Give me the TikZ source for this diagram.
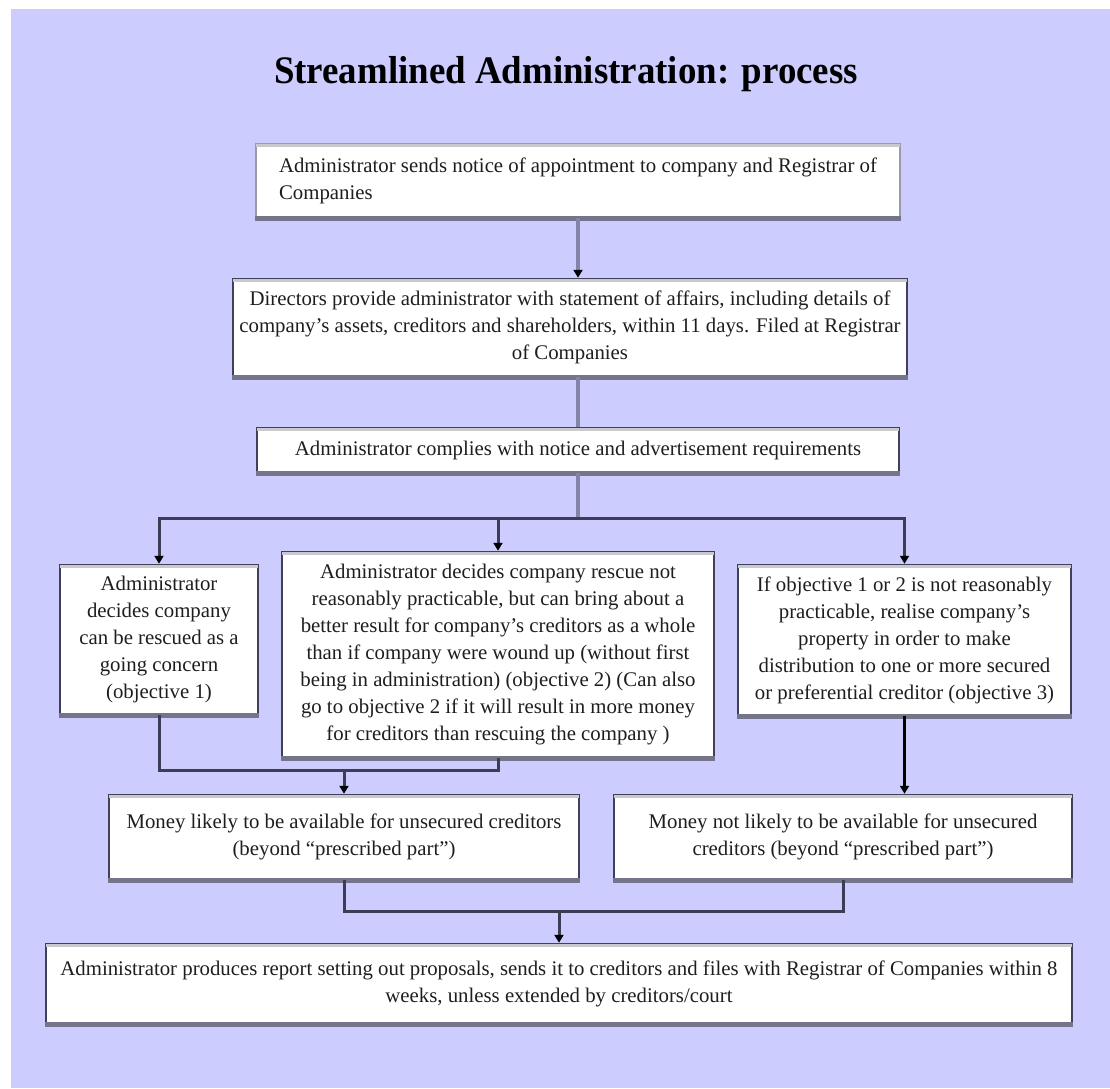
\documentclass[tikz,border=0pt]{standalone}
\usepackage{fontspec}
\usepackage{graphicx}
\setmainfont{Liberation Serif}
\usetikzlibrary{arrows.meta}
\definecolor{lav}{HTML}{CCCCFF}
\definecolor{boxedge}{HTML}{404058}
\definecolor{boxedgelight}{HTML}{9A9AAC}
\definecolor{shadecol}{HTML}{74748A}
\definecolor{bandcol}{HTML}{CACACE}
\definecolor{flowgray}{HTML}{8484A8}
\definecolor{flowdark}{HTML}{3C3C54}
\definecolor{txt}{HTML}{1E1E1E}
\begin{document}
\begin{tikzpicture}[x=1pt,y=-1pt,
  every node/.style={font=\fontsize{20.8}{27}\selectfont, text=txt},
  box/.style={draw=boxedge, line width=2.5pt, fill=white, inner sep=0pt, align=center},
  lightbox/.style={box, draw=boxedgelight},
  bottomedge/.style={draw=shadecol, line width=4.5pt},
  topband/.style={draw=bandcol, line width=3pt},
  flowthick/.style={draw=flowgray, line width=4pt},
  flowthin/.style={draw=flowdark, line width=3pt},
  tip/.style={-{Triangle[length=8pt,width=9pt,color=black]}}
]
\fill[white] (0,0) rectangle (1110,1088);
\fill[lav] (11,9) rectangle (1110,1088);

\node[anchor=base, inner sep=0pt, font=\fontsize{39}{42}\selectfont\bfseries, text=black] (title) at (566,83) {\scalebox{0.946}[1]{Streamlined Administration: process}};

\node[lightbox, minimum width=644pt, minimum height=73pt, align=left] (b1) at (578,180.5)
  {Administrator sends notice of appointment to company and Registrar of\\Companies};
\node[box, minimum width=674pt, minimum height=97pt] (b2) at (570,327.5)
  {Directors provide administrator with statement of affairs, including details of\\company's assets, creditors and shareholders, within 11 days. Filed at Registrar\\of Companies};
\node[box, minimum width=642pt, minimum height=44pt] (b3) at (578,450)
  {Administrator complies with notice and advertisement requirements};

\node[box, minimum width=198pt, minimum height=149pt] (o1) at (159,639.5)
  {Administrator\\decides company\\can be rescued as a\\going concern\\(objective 1)};
\node[box, minimum width=432pt, minimum height=205pt] (o2) at (498,654.5)
  {Administrator decides company rescue not\\reasonably practicable, but can bring about a\\better result for company's creditors as a whole\\than if company were wound up (without first\\being in administration) (objective 2) (Can also\\go to objective 2 if it will result in more money\\for creditors than rescuing the company )};
\node[box, minimum width=333pt, minimum height=150pt] (o3) at (904.5,640)
  {If objective 1 or 2 is not reasonably\\practicable, realise company's\\property in order to make\\distribution to one or more secured\\or preferential creditor (objective 3)};

\node[box, minimum width=470pt, minimum height=84pt] (m1) at (344,837)
  {Money likely to be available for unsecured creditors\\(beyond “prescribed part”)};
\node[box, minimum width=458pt, minimum height=84pt] (m2) at (843,837)
  {Money not likely to be available for unsecured\\creditors (beyond “prescribed part”)};

\node[box, minimum width=1026pt, minimum height=79pt] (f) at (559,983.5)
  {Administrator produces report setting out proposals, sends it to creditors and files with Registrar of Companies within 8\\weeks, unless extended by creditors/court};

\foreach \n in {b1,b2,b3,o1,o2,o3,m1,m2,f}{
  \draw[topband] ([xshift=1.5pt,yshift=-3pt]\n.north west) -- ([xshift=-1.5pt,yshift=-3pt]\n.north east);
  \draw[bottomedge] (\n.south west) -- (\n.south east);
}

\coordinate (j1) at (578,518);
\coordinate (j2) at (344,770);
\coordinate (j3) at (559,911);

\draw[flowthick, tip] (b1.south) -- (b1.south |- b2.north);
\draw[flowthick] (b3.north |- b2.south) -- (b3.north);
\draw[flowthick] (b3.south) -- (j1);
\draw[flowthin, tip] (j1) -| (o1.north);
\draw[flowthin, tip] (j1) -| (o2.north);
\draw[flowthin, tip] (j1) -| (o3.north);
\draw[flowthin] (o1.south) |- (j2);
\draw[flowthin] (o2.south) |- (j2);
\draw[flowthin, tip] (j2) -- (m1.north);
\draw[flowthin, draw=black, tip] (o3.south) -- (o3.south |- m2.north);
\draw[flowthin] (m1.south) |- (j3);
\draw[flowthin] (m2.south) |- (j3);
\draw[flowthin, tip] (j3) -- (f.north);
\end{tikzpicture}
\end{document}
